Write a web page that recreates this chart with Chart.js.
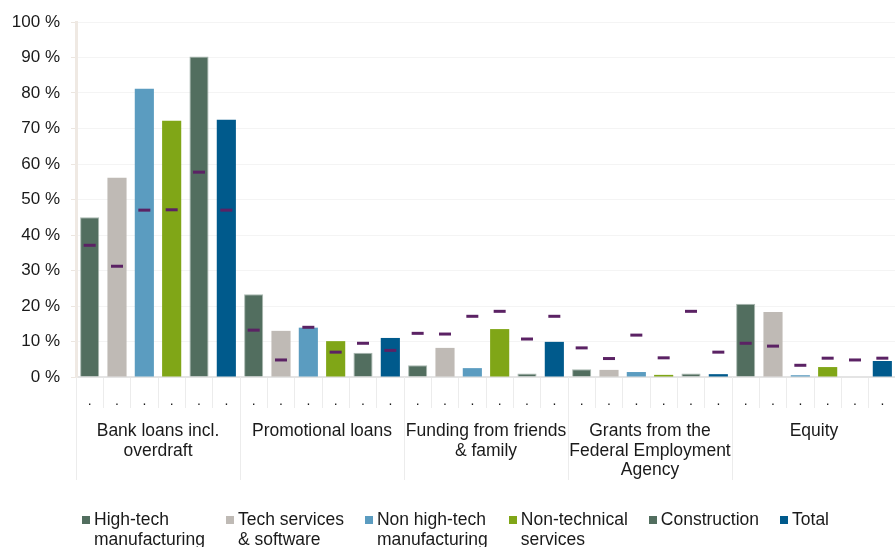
<!DOCTYPE html>
<html>
<head>
<meta charset="utf-8">
<script src="https://cdn.jsdelivr.net/npm/chart.js@4/dist/chart.umd.min.js"></script>
<style>
  html, body { margin: 0; padding: 0; background: #fff; overflow: hidden; }
  #wrap { position: relative; width: 905px; height: 556px; }
</style>
</head>
<body>
<div id="wrap"><canvas id="chart"></canvas></div>
<script>
// Group labels (each group has one bar per sector)
const groups = [
  ['Bank loans incl.', 'overdraft'],
  ['Promotional loans'],
  ['Funding from friends', '& family'],
  ['Grants from the', 'Federal Employment', 'Agency'],
  ['Equity']
];

// Sectors (legend labels, split on two lines like the original)
const sectors = [
  ['High-tech', 'manufacturing'],
  ['Tech services', '& software'],
  ['Non high-tech', 'manufacturing'],
  ['Non-technical', 'services'],
  ['Construction'],
  ['Total']
];
const sectorColors = ['#526e5f', '#bfbab5', '#5b9cc0', '#80a617', '#526e5f', '#005a8c'];

// Bar values in %, one per group
const highTech     = [45.0, 23.3, 3.3, 2.2, 20.6];
const techServices = [56.1, 13.0, 8.2, 2.0, 18.3];
const nonHighTech  = [81.2, 13.9, 2.5, 1.4, 0.5];
const nonTechnical = [72.2, 10.1, 13.5, 0.6, 2.8];
const construction = [90.3, 6.8, 1.0, 1.0, 0];
const total        = [72.5, 11.0, 9.9, 0.8, 4.5];

// Marker (dash) values in %, one per group
const highTechMark     = [37.1, 13.2, 12.3, 8.2, 9.5];
const techServicesMark = [31.2, 4.8, 12.1, 5.2, 8.7];
const nonHighTechMark  = [47.0, 14.0, 17.1, 11.8, 3.3];
const nonTechnicalMark = [47.1, 7.0, 18.5, 5.4, 5.3];
const constructionMark = [57.7, 9.5, 10.7, 18.5, 4.8];
const totalMark        = [47.0, 7.5, 17.1, 7.0, 5.3];

const yTicks = [0, 10, 20, 30, 40, 50, 60, 70, 80, 90, 100];

const barSeries = [highTech, techServices, nonHighTech, nonTechnical, construction, total];
const markSeries = [highTechMark, techServicesMark, nonHighTechMark, nonTechnicalMark, constructionMark, totalMark];
const nSec = sectors.length;
const FONT = 'Arial, "Liberation Sans", sans-serif';

// one slot per bar: group g, sector s -> index g*nSec + s
const slotLabels = [];
groups.forEach(() => sectors.forEach(() => slotLabels.push('.')));

const barDatasets = barSeries.map((vals, s) => {
  const data = slotLabels.map(() => null);
  vals.forEach((v, g) => { data[g * nSec + s] = v; });
  return {
    type: 'bar',
    label: sectors[s].join(' '),
    data: data,
    backgroundColor: sectorColors[s],
    borderColor: sectorColors[s] === '#526e5f' ? '#a9b8b0' : sectorColors[s],
    borderWidth: sectorColors[s] === '#526e5f' ? 1 : 0,
    order: 2
  };
});

const markData = [];
groups.forEach((grp, g) => sectors.forEach((sec, s) => markData.push(markSeries[s][g])));

const markDataset = {
  type: 'line',
  label: 'marker',
  data: markData,
  showLine: false,
  pointStyle: 'line',
  pointRadius: 6,
  pointHoverRadius: 6,
  borderWidth: 3,
  borderColor: '#5b2264',
  backgroundColor: '#5b2264',
  order: 1
};

// Group labels and long dividers under the x axis
const groupLabelPlugin = {
  id: 'groupLabels',
  afterDraw(chart) {
    const x = chart.scales.x;
    const ctx = chart.ctx;
    const bottom = chart.chartArea.bottom;
    const slot = x.getPixelForValue(1) - x.getPixelForValue(0);
    ctx.save();
    ctx.strokeStyle = '#ececec';
    ctx.lineWidth = 1;
    for (let g = 0; g <= groups.length; g++) {
      const px = Math.round(x.getPixelForValue(g * nSec) - slot / 2) + 0.5;
      ctx.beginPath();
      ctx.moveTo(px, bottom);
      ctx.lineTo(px, bottom + 103);
      ctx.stroke();
    }
    ctx.fillStyle = '#1a1a1a';
    ctx.font = '17.5px ' + FONT;
    ctx.textAlign = 'center';
    ctx.textBaseline = 'middle';
    groups.forEach((lines, g) => {
      const cx = (x.getPixelForValue(g * nSec) + x.getPixelForValue(g * nSec + nSec - 1)) / 2;
      lines.forEach((line, i) => {
        ctx.fillText(line, cx, bottom + 54 + i * 19.7);
      });
    });
    ctx.restore();
  }
};

// Legend with two-line labels, drawn in the bottom padding
const legendPlugin = {
  id: 'sectorLegend',
  afterDraw(chart) {
    const ctx = chart.ctx;
    ctx.save();
    ctx.font = '17.5px ' + FONT;
    const box = 9, gap = 3, spacing = 21;
    const widths = sectors.map(lines => box + gap + Math.max(...lines.map(l => ctx.measureText(l).width)));
    let x = chart.chartArea.left + 6;
    const y = chart.chartArea.bottom + 143;
    ctx.textAlign = 'left';
    ctx.textBaseline = 'middle';
    sectors.forEach((lines, s) => {
      ctx.fillStyle = sectorColors[s];
      ctx.fillRect(Math.round(x), y - 4, box - 1, box - 1);
      ctx.fillStyle = '#1a1a1a';
      lines.forEach((l, i) => ctx.fillText(l, x + box + gap, y + i * 20));
      x += widths[s] + spacing;
    });
    ctx.restore();
  }
};

Chart.defaults.font.family = FONT;
Chart.defaults.font.size = 16;
Chart.defaults.color = '#1a1a1a';

new Chart(document.getElementById('chart'), {
  data: {
    labels: slotLabels,
    datasets: [markDataset].concat(barDatasets)
  },
  options: {
    responsive: true,
    maintainAspectRatio: false,
    animation: false,
    layout: { padding: { top: 22, right: 4, left: 0, bottom: 67 } },
    datasets: {
      bar: { grouped: false, categoryPercentage: 1, barPercentage: 0.7 }
    },
    plugins: {
      tooltip: { enabled: false },
      legend: { display: false }
    },
    scales: {
      x: {
        offset: true,
        afterFit: scale => { scale.height = 112; },
        grid: {
          offset: true,
          drawOnChartArea: false,
          drawTicks: true,
          tickLength: 31,
          tickColor: '#ececec',
          color: '#ececec'
        },
        border: { color: '#e4e4e4', width: 2 },
        ticks: {
          autoSkip: false,
          maxRotation: 0,
          padding: -15,
          font: { size: 14 }
        }
      },
      y: {
        min: 0,
        max: 100,
        afterFit: scale => { scale.width = 76; },
        afterBuildTicks: scale => { scale.ticks = yTicks.map(v => ({ value: v })); },
        grid: {
          color: '#f4f4f4',
          tickColor: '#ece6e0',
          tickLength: 5
        },
        border: { color: '#efe9e3', width: 3 },
        ticks: {
          padding: 11,
          font: { size: 17 },
          callback: v => v + ' %'
        }
      }
    }
  },
  plugins: [groupLabelPlugin, legendPlugin]
});
</script>
</body>
</html>
